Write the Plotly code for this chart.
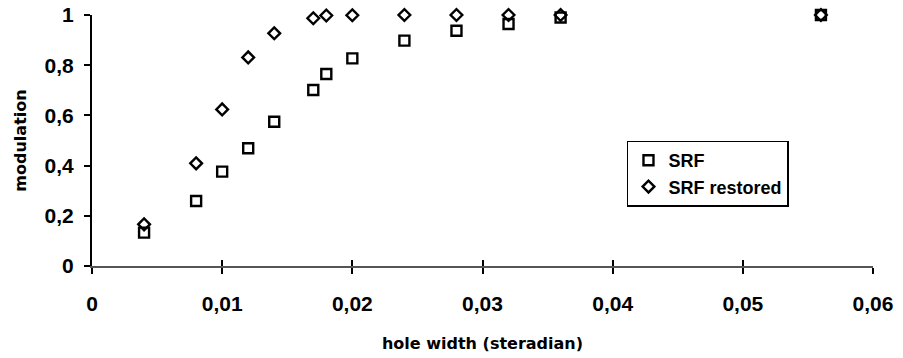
import plotly.graph_objects as go

# Data
hole_width = [0.004, 0.008, 0.010, 0.012, 0.014, 0.017, 0.018, 0.020, 0.024, 0.028, 0.032, 0.036, 0.056]
srf = [0.133, 0.259, 0.376, 0.469, 0.575, 0.701, 0.765, 0.827, 0.898, 0.937, 0.964, 0.990, 1.0]
srf_restored = [0.166, 0.409, 0.624, 0.831, 0.927, 0.987, 0.998, 0.999, 1.0, 1.0, 1.0, 1.0, 1.0]

x_ticks = [0, 0.01, 0.02, 0.03, 0.04, 0.05, 0.06]
x_labels = ["0", "0,01", "0,02", "0,03", "0,04", "0,05", "0,06"]
y_ticks = [0, 0.2, 0.4, 0.6, 0.8, 1.0]
y_labels = ["0", "0,2", "0,4", "0,6", "0,8", "1"]

tick_font = dict(family="Liberation Sans, Arial, sans-serif", size=21, color="black", weight="bold")
title_font = dict(family="DejaVu Sans, Verdana, sans-serif", size=16, color="black", weight="bold")

fig = go.Figure()
fig.add_trace(go.Scatter(
    x=hole_width, y=srf, mode="markers", name="SRF",
    marker=dict(symbol="square-open", size=10, color="black", line=dict(width=2.4, color="black")),
    cliponaxis=False,
))
fig.add_trace(go.Scatter(
    x=hole_width, y=srf_restored, mode="markers", name="SRF restored",
    marker=dict(symbol="diamond-open", size=9, color="black", line=dict(width=2.4, color="black")),
    cliponaxis=False,
))
# invisible trace on overlay axis to give inside ticks (crossing tick marks)
fig.add_trace(go.Scatter(x=[None], y=[None], xaxis="x2", showlegend=False, hoverinfo="skip"))

fig.update_layout(
    width=903, height=358,
    margin=dict(l=92, r=30, t=15, b=92),
    paper_bgcolor="white", plot_bgcolor="white",
    showlegend=True,
    legend=dict(
        x=0.685, y=0.50, xanchor="left", yanchor="top",
        bgcolor="white", bordercolor="black", borderwidth=1.5,
        font=dict(family="Liberation Sans, Arial, sans-serif", size=18, color="black", weight="bold"),
        itemwidth=30, tracegroupgap=2,
    ),
    xaxis=dict(
        range=[0, 0.06], tickvals=x_ticks, ticktext=x_labels,
        showgrid=False, zeroline=False,
        showline=True, linecolor="#555555", linewidth=2,
        ticks="outside", ticklen=6, tickwidth=2, tickcolor="black",
        tickfont=tick_font, ticklabelstandoff=12,
        title=dict(text="hole width (steradian)", font=title_font, standoff=24),
        automargin=False,
    ),
    xaxis2=dict(
        range=[0, 0.06], tickvals=x_ticks, overlaying="x", side="bottom",
        showgrid=False, zeroline=False, showline=False, showticklabels=False,
        ticks="inside", ticklen=6, tickwidth=2, tickcolor="black",
    ),
    yaxis=dict(
        range=[0, 1], tickvals=y_ticks, ticktext=y_labels,
        showgrid=False, zeroline=False,
        showline=True, linecolor="black", linewidth=2,
        ticks="outside", ticklen=6, tickwidth=2, tickcolor="black",
        tickfont=tick_font, ticklabelstandoff=6,
        title=dict(text="modulation", font=title_font, standoff=14),
        automargin=False,
    ),
)

fig.write_html("out.html", config={"displayModeBar": False},
               post_script="document.body.style.margin='0';")
